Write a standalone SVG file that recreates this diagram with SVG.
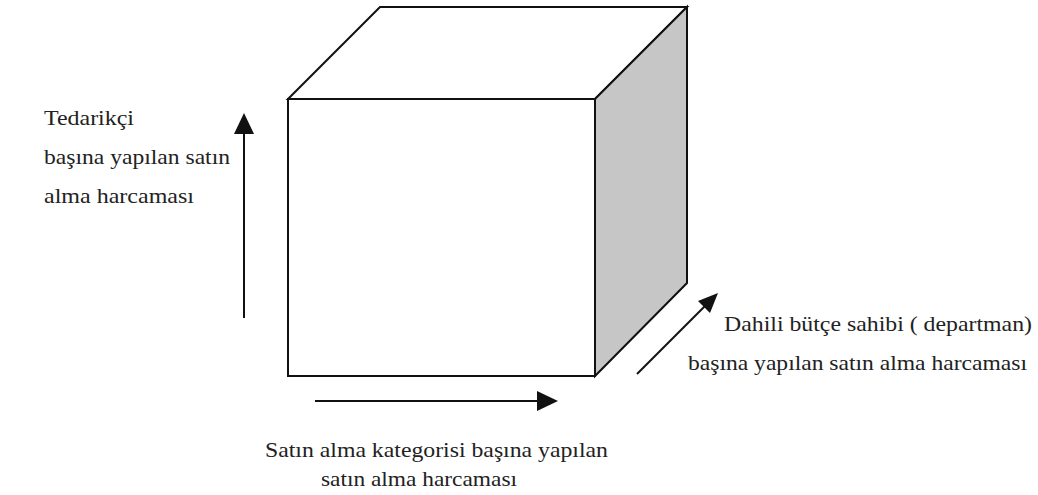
<svg xmlns="http://www.w3.org/2000/svg" width="1038" height="495" viewBox="0 0 1038 495">
<defs>
<style>
.face{stroke:#111;stroke-width:2;stroke-linejoin:miter}
.lbl{font-family:'Liberation Serif','Times New Roman',serif;font-size:22px;fill:#222}
.arr{stroke:#111;stroke-width:2;fill:none}
</style>
</defs>
<rect width="1038" height="495" fill="#fff"/>
<g id="cube">
<polygon class="face" points="288,99 380,7 687,7 595,99" fill="#fff"/>
<polygon class="face" points="595,99 687,7 687,283 595,376" fill="#c6c6c6"/>
<rect class="face" x="288" y="99" width="307" height="277" fill="#fff"/>
</g>
<g id="connectors">
<line class="arr" x1="244" y1="318" x2="244" y2="130"/>
<polygon points="244,113 234,134 254,134" fill="#111"/>
<line class="arr" x1="315" y1="401" x2="540" y2="401"/>
<polygon points="558,401 537,391 537,411" fill="#111"/>
<line class="arr" x1="637" y1="374" x2="706" y2="305"/>
<polygon points="718,293 698,301 710,313" fill="#111"/>
</g>
<g id="label-supplier">
<text class="lbl" x="44" y="125" textLength="90" lengthAdjust="spacingAndGlyphs">Tedarikçi</text>
<text class="lbl" x="44" y="164" textLength="186" lengthAdjust="spacingAndGlyphs">başına yapılan satın</text>
<text class="lbl" x="44" y="203" textLength="150" lengthAdjust="spacingAndGlyphs">alma harcaması</text>
</g>
<g id="label-category">
<text class="lbl" x="265" y="457" textLength="343" lengthAdjust="spacingAndGlyphs">Satın alma kategorisi başına yapılan</text>
<text class="lbl" x="321" y="486" textLength="196" lengthAdjust="spacingAndGlyphs">satın alma harcaması</text>
</g>
<g id="label-department">
<text class="lbl" x="724" y="331" textLength="308" lengthAdjust="spacingAndGlyphs">Dahili bütçe sahibi ( departman)</text>
<text class="lbl" x="688" y="370" textLength="339" lengthAdjust="spacingAndGlyphs">başına yapılan satın alma harcaması</text>
</g>
</svg>
